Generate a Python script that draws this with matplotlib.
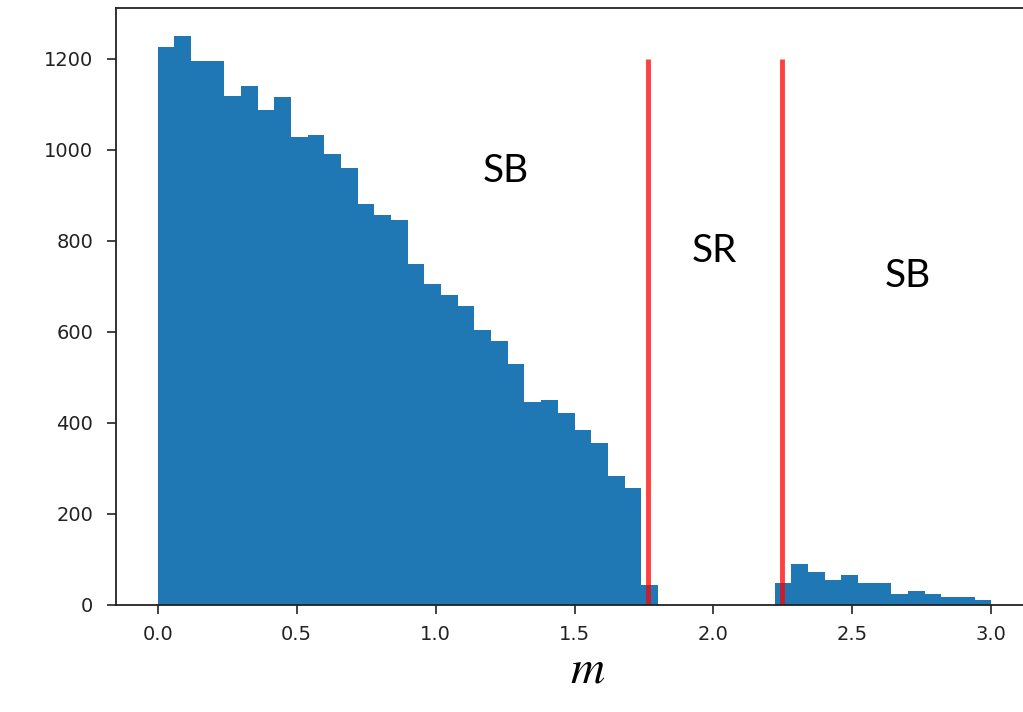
import numpy as np
import matplotlib.pyplot as plt

# histogram of m: 50 bins on [0, 3]
bin_edges = np.linspace(0.0, 3.0, 51)
counts = [1226, 1249, 1196, 1196, 1118, 1141, 1087, 1117, 1027, 1032,
          990, 959, 881, 856, 845, 749, 706, 681, 657, 604,
          580, 530, 447, 451, 422, 385, 356, 283, 258, 43,
          0, 0, 0, 0, 0, 0, 0, 48, 91, 73,
          54, 66, 48, 48, 24, 31, 24, 18, 18, 12]

# signal region boundaries
sr_bounds = [1.765, 2.248]
line_top = 1200

region_labels = ["SB", "SR", "SB"]
label_x = [1.252, 2.003, 2.698]
label_y = [954, 778, 723]

fig = plt.figure(figsize=(10.23, 7.12), dpi=100)
ax = fig.add_axes([116 / 1023, 1 - 605 / 712, (1033 - 116) / 1023, (605 - 8) / 712])

ax.hist(bin_edges[:-1], bins=bin_edges, weights=counts, color="#1f77b4")
ax.vlines(sr_bounds, 0, line_top, colors="red", alpha=0.75, linewidth=3.5)

for txt, x, y in zip(region_labels, label_x, label_y):
    ax.text(x, y, txt, fontsize=28, family="Lato", ha="center", va="center")

ax.set_xticks([0.0, 0.5, 1.0, 1.5, 2.0, 2.5, 3.0])
ax.set_yticks([0, 200, 400, 600, 800, 1000, 1200])
ax.tick_params(axis="both", labelsize=14, length=6.5, width=1.2, colors="#222222")
ax.tick_params(axis="x", pad=8)
ax.tick_params(axis="y", pad=10)
for sp in ax.spines.values():
    sp.set_linewidth(1.3)
    sp.set_color("#222222")

plt.rcParams["mathtext.fontset"] = "stix"
fig.text(588 / 1023, 1 - 670 / 712, "$m$", fontsize=34, ha="center", va="center")

fig.savefig("out.png", dpi=100)
